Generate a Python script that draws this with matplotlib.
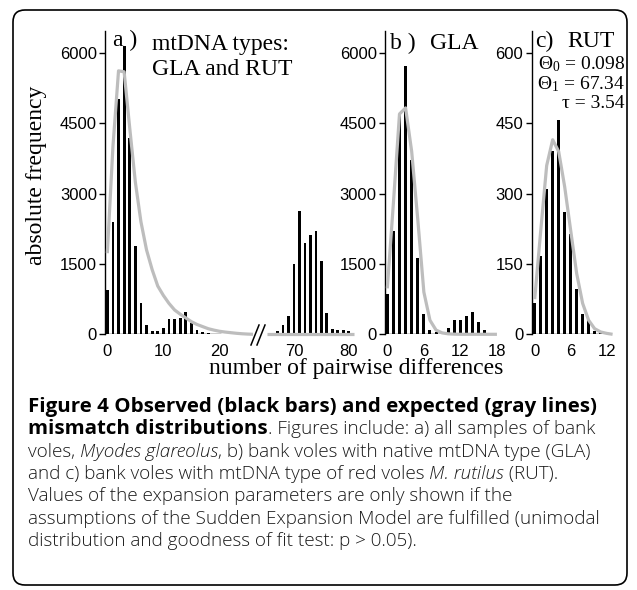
import numpy as np
import matplotlib
matplotlib.use("Agg")
import matplotlib.pyplot as plt
from matplotlib.patches import FancyBboxPatch
from matplotlib.lines import Line2D

# ---- data ----
# a) all samples, left block (0..20) and right block (67..80)
a_x = list(range(0, 21))
a_obs = [950, 2400, 5030, 6150, 4180, 1890, 670, 205, 80, 80, 140,
         320, 320, 350, 480, 240, 95, 40, 20, 15, 10]
a_exp_x = list(range(0, 27))
a_exp = [1730, 4000, 5620, 5600, 4400, 3250, 2400, 1800, 1380, 1030, 830,
         660, 520, 430, 350, 270, 210, 165, 120, 90, 65, 48, 35, 22, 12, 5, 0]
a2_x = list(range(67, 81))
a2_obs = [70, 200, 390, 1500, 2620, 1950, 2110, 2200, 1570, 460, 120, 90, 90, 60]
a2_exp_x = [65, 66, 67, 68, 69, 70, 71, 72, 73, 74, 75, 76, 77, 78, 79, 80, 81]
a2_exp = [0, 0, 0, 0, 0, 0, 0, 0, 0, 0, 0, 0, 0, 0, 0, 0, 0]

# b) GLA
b_x = list(range(0, 17))
b_obs = [860, 2200, 4690, 5730, 3710, 1620, 440, 100, 50, 30, 135,
         300, 300, 385, 470, 265, 100]
b_exp_x = list(range(0, 19))
b_exp = [980, 2800, 4700, 4830, 3900, 2450, 900, 300, 90, 30, 10, 3,
         0, 0, 0, 0, 0, 0, 0]

# c) RUT
c_x = list(range(0, 12))
c_obs = [66, 167, 310, 390, 457, 260, 215, 96, 43, 30, 8, 3]
c_exp_x = list(range(0, 14))
c_exp = [75, 220, 360, 415, 390, 315, 222, 130, 66, 30, 12, 5, 2, 0]

ab_yticks = [0, 1500, 3000, 4500, 6000]
c_yticks = [0, 150, 300, 450, 600]

# ---- figure ----
W, H = 637, 590
plt.rcParams["font.family"] = ["Liberation Sans", "DejaVu Sans"]
plt.rcParams["mathtext.fontset"] = "custom"
plt.rcParams["mathtext.rm"] = "Liberation Serif"
plt.rcParams["mathtext.it"] = "Liberation Serif:italic"
fig = plt.figure(figsize=(W / 100, H / 100), dpi=100)

SERIF = ["Liberation Serif", "DejaVu Serif"]
GRAY = "#bdbdbd"
TOP, BASE = 31, 334.3


def px_axes(x0, x1):
    return fig.add_axes([x0 / W, (H - BASE) / H, (x1 - x0) / W, (BASE - TOP) / H])


def setup(ax, xlim, ylim, xticks, yticks=None):
    ax.set_xlim(xlim)
    ax.set_ylim(ylim)
    ax.patch.set_alpha(0)
    for s in ["top", "right", "bottom"]:
        ax.spines[s].set_visible(False)
    ax.set_xticks(xticks)
    ax.tick_params(axis="x", length=0, pad=7, labelsize=12)
    if yticks is None:
        ax.spines["left"].set_visible(False)
        ax.set_yticks([])
    else:
        ax.spines["left"].set_linewidth(1.0)
        ax.set_yticks(yticks)
        ax.tick_params(axis="y", length=4, width=1, pad=2, labelsize=12)


def draw(ax, x, obs, ex, ey):
    ax.bar(x, obs, width=0.5, color="black", zorder=2)
    ax.hlines(0, x[0] - 0.25, x[-1] + 0.25, color="black", lw=1, zorder=2)
    ax.plot(ex, ey, color=GRAY, lw=2.3, zorder=3, clip_on=False,
            solid_joinstyle="round", solid_capstyle="butt")


ax_a = px_axes(105.3, 253)
setup(ax_a, (-0.36, 26.0), (0, 6470), [0, 10, 20], ab_yticks)
draw(ax_a, a_x, a_obs, a_exp_x, a_exp)

ax_a2 = px_axes(266, 357)
setup(ax_a2, (64.9, 81.5), (0, 6470), [70, 80])
draw(ax_a2, a2_x, a2_obs, a2_exp_x, a2_exp)

ax_b = px_axes(385, 500)
setup(ax_b, (-0.38, 18.5), (0, 6470), [0, 6, 12, 18], ab_yticks)
draw(ax_b, b_x, b_obs, b_exp_x, b_exp)

ax_c = px_axes(531.7, 612)
setup(ax_c, (-0.5, 12.9), (0, 647), [0, 6, 12], c_yticks)
draw(ax_c, c_x, c_obs, c_exp_x, c_exp)

# axis break marks
for dx in (0, 6):
    fig.add_artist(Line2D([(251 + dx) / W, (259 + dx) / W],
                          [(H - 345) / H, (H - 325) / H], color="black", lw=1.1))


def ftext(x, y, s, **kw):
    return fig.text(x / W, (H - y) / H, s, **kw)


# panel labels
ftext(113, 46, "a )", family=SERIF, fontsize=17, va="baseline")
ftext(152, 50, "mtDNA types:", family=SERIF, fontsize=17, va="baseline")
ftext(152, 75, "GLA and RUT", family=SERIF, fontsize=17, va="baseline")
ftext(390, 49, "b )", family=SERIF, fontsize=17, va="baseline")
ftext(430, 49, "GLA", family=SERIF, fontsize=17, va="baseline")
ftext(535, 47, "c)", family=SERIF, fontsize=17, va="baseline")
ftext(567, 47, "RUT", family=SERIF, fontsize=17, va="baseline")
ftext(625, 69, r"$\Theta_{0}$ = 0.098", family=SERIF, fontsize=14, va="baseline", ha="right")
ftext(625, 89, r"$\Theta_{1}$ = 67.34", family=SERIF, fontsize=14, va="baseline", ha="right")
ftext(625, 108, "τ = 3.54", family=SERIF, fontsize=14, va="baseline", ha="right")

# axis titles
ftext(37, 175, "absolute frequency", family=SERIF, fontsize=17, rotation=90,
      ha="center", va="center")
ftext(356, 374, "number of pairwise differences", family=SERIF, fontsize=17,
      ha="center", va="baseline")

# frame
fig.add_artist(FancyBboxPatch((13 / 100, 5 / 100), 614 / 100, 575 / 100,
                              boxstyle="round,pad=0,rounding_size=0.12",
                              transform=fig.dpi_scale_trans, fill=False,
                              edgecolor="black", lw=1.2))

# caption
CAP = ["Open Sans", "DejaVu Sans"]
styles = {"b": dict(weight="bold"), "r": dict(weight="light"),
          "i": dict(weight="light", style="italic")}
cap_lines = [
    [("Figure 4 Observed (black bars) and expected (gray lines)", "b")],
    [("mismatch distributions", "b"), (". Figures include: a) all samples of bank", "r")],
    [("voles, ", "r"), ("Myodes glareolus", "i"), (", b) bank voles with native mtDNA type (GLA)", "r")],
    [("and c) bank voles with mtDNA type of red voles ", "r"), ("M. rutilus", "i"), (" (RUT).", "r")],
    [("Values of the expansion parameters are only shown if the", "r")],
    [("assumptions of the Sudden Expansion Model are fulfilled (unimodal", "r")],
    [("distribution and goodness of fit test: p > 0.05).", "r")],
]

renderer = fig.canvas.get_renderer()


def width(s, fs, st):
    t1 = fig.text(0, 0, "|" + s + "|", family=CAP, fontsize=fs, **styles[st])
    t2 = fig.text(0, 0, "||", family=CAP, fontsize=fs, **styles[st])
    w = t1.get_window_extent(renderer).width - t2.get_window_extent(renderer).width
    t1.remove()
    t2.remove()
    return w


fs_b = 0.97 * 12 * 584 / width(cap_lines[0][0][0], 12, "b")
fs_r = 0.98 * 12 * 584 / width(cap_lines[5][0][0], 12, "r")
sizes = {"b": fs_b, "r": fs_r, "i": fs_r}

y = 412
for line in cap_lines:
    x = 28
    for s, st in line:
        ftext(x, y, s, family=CAP, fontsize=sizes[st], va="baseline",
              color="black" if st == "b" else "#1a1a1a", **styles[st])
        x += width(s, sizes[st], st)
    y += 22.3

fig.savefig("out.png", dpi=100)
